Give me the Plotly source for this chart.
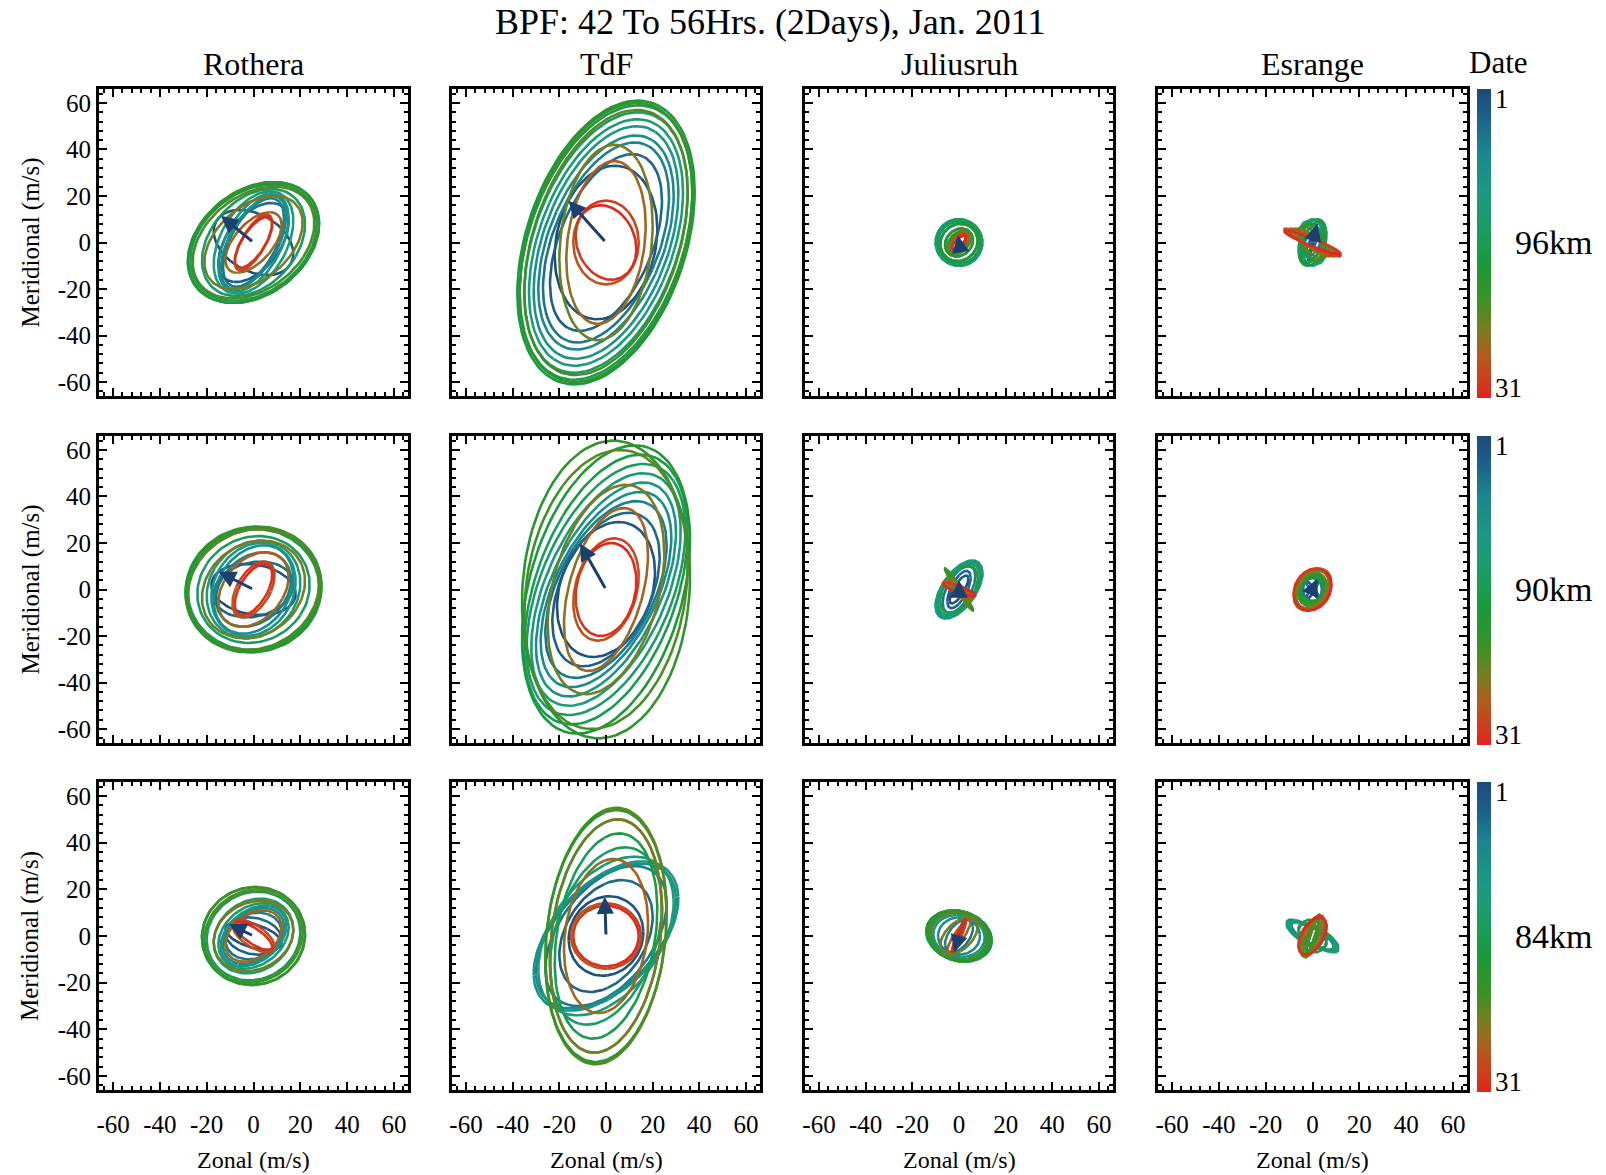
import numpy as np
import plotly.graph_objects as go

# ---------------------------------------------------------------------------
# Band-pass filtered (42-56 h) wind hodographs, January 2011.
# Each 2-day wave cycle is described by its zonal amplitude (m/s), its
# meridional amplitude (m/s) and the phase lag of the meridional component
# relative to the zonal one (degrees).  Cycles start on days 1, 3, ..., 29.
# ---------------------------------------------------------------------------
stations = ["Rothera", "TdF", "Juliusruh", "Esrange"]
heights = ["96km", "90km", "84km"]
cycle_start_days = [1, 3, 5, 7, 9, 11, 13, 15, 17, 19, 21, 23, 25, 27, 29]
axis_ticks = [-60, -40, -20, 0, 20, 40, 60]
first_day, last_day = 1, 31

# ---- 96 km ----
rothera_96_u = [17, 15, 13, 14, 15, 17, 22, 27, 28, 28, 26, 21, 12, 8, 8]
rothera_96_v = [14, 17, 19, 20, 21, 22, 23, 25, 26, 26, 24, 20, 13, 12, 11]
rothera_96_ph = [110, 60, 55, 55, 60, 65, 70, 72, 72, 72, 70, 65, 55, 45, 45]
rothera_96_start = 145

tdf_96_u = [22, 24, 27, 29, 31, 33, 35, 37, 38, 37, 35, 20, 17, 14, 13]
tdf_96_v = [33, 38, 43, 46, 50, 53, 56, 59, 61, 60, 57, 42, 35, 18, 16]
tdf_96_ph = [80, 62, 63, 64, 65, 66, 67, 68, 69, 69, 68, 80, 78, 90, 100]
tdf_96_start = 137

juliusruh_96_u = [3, 4, 6, 8, 9, 10, 10, 9, 8, 6, 5, 4, 4, 3, 3]
juliusruh_96_v = [4, 5, 6, 8, 9, 10, 10, 9, 8, 6, 5, 4, 4, 4, 3]
juliusruh_96_ph = [60, 70, 80, 85, 90, 90, 90, 90, 85, 80, 70, 60, 60, 50, 40]
juliusruh_96_start = 100

esrange_96_u = [2, 3, 4, 4, 5, 5, 5, 6, 5, 5, 6, 8, 10, 12, 12]
esrange_96_v = [8, 6, 6, 7, 8, 9, 10, 10, 9, 8, 7, 6, 6, 6, 5]
esrange_96_ph = [10, 30, 60, 80, 100, 120, 90, 70, 60, 110, 130, 150, 155, 160, 160]
esrange_96_start = 10

# ---- 90 km ----
rothera_90_u = [18, 17, 16, 17, 18, 20, 24, 28, 29, 29, 28, 22, 15, 9, 8]
rothera_90_v = [11, 12, 16, 19, 20, 21, 23, 26, 27, 27, 26, 21, 16, 12, 11]
rothera_90_ph = [100, 80, 75, 75, 80, 82, 85, 88, 88, 86, 84, 80, 70, 60, 55]
rothera_90_start = 146

tdf_90_u = [21, 23, 26, 28, 30, 32, 34, 35, 36, 36, 35, 25, 18, 14, 13]
tdf_90_v = [29, 33, 38, 42, 46, 50, 54, 58, 62, 64, 60, 45, 35, 22, 20]
tdf_90_ph = [75, 65, 60, 58, 58, 60, 62, 65, 70, 85, 80, 70, 65, 75, 80]
tdf_90_start = 122

juliusruh_90_u = [4, 5, 7, 9, 10, 10, 9, 8, 6, 6, 5, 5, 6, 7, 7]
juliusruh_90_v = [6, 8, 10, 12, 12.5, 12, 11, 10, 9, 9, 8, 5, 4, 3, 3]
juliusruh_90_ph = [40, 50, 55, 55, 55, 55, 60, 60, 170, 170, 165, 150, 150, 150, 150]
juliusruh_90_start = 90

esrange_90_u = [3, 3, 4, 5, 6, 6, 6, 6, 5, 6, 6, 7, 8, 8, 8]
esrange_90_v = [5, 4, 5, 6, 6, 6, 6, 6, 5, 6, 7, 8, 9, 9, 9]
esrange_90_ph = [20, 160, 90, 80, 70, 75, 80, 85, 90, 80, 75, 70, 70, 75, 80]
esrange_90_start = 45

# ---- 84 km ----
rothera_84_u = [12, 12, 12, 13, 14, 15, 17, 20, 22, 22, 21, 17, 12, 9, 8]
rothera_84_v = [6, 8, 10, 12, 13, 14, 16, 19, 21, 21, 20, 15, 11, 7, 6]
rothera_84_ph = [120, 100, 80, 70, 70, 75, 80, 85, 88, 88, 85, 80, 70, 130, 140]
rothera_84_start = 151

tdf_84_u = [16, 20, 26, 30, 31, 29, 24, 22, 24, 26, 26, 24, 18, 15, 14]
tdf_84_v = [17, 24, 30, 31, 32, 34, 38, 44, 50, 54, 55, 50, 33, 14, 13]
tdf_84_ph = [85, 70, 62, 60, 60, 65, 70, 75, 78, 80, 80, 78, 80, 90, 90]
tdf_84_start = 92

juliusruh_84_u = [2, 3, 6, 9, 11, 12, 13, 14, 14, 13, 12, 8, 5, 3, 3]
juliusruh_84_v = [7, 7, 7, 8, 9, 10, 10, 11, 11, 11, 10, 8, 7, 7, 7]
juliusruh_84_ph = [10, 20, 60, 90, 95, 100, 100, 100, 100, 100, 95, 60, 30, 20, 15]
juliusruh_84_start = 185

esrange_84_u = [3, 4, 6, 9, 11, 11, 10, 6, 4, 3, 3, 4, 5, 6, 6]
esrange_84_v = [4, 4, 5, 6, 7, 6, 6, 7, 8, 9, 9, 9, 9, 8, 8]
esrange_84_ph = [60, 100, 130, 140, 145, 140, 130, 100, 30, 20, 20, 40, 50, 60, 60]
esrange_84_start = 135

panel_rows = [
    [(rothera_96_u, rothera_96_v, rothera_96_ph, rothera_96_start),
     (tdf_96_u, tdf_96_v, tdf_96_ph, tdf_96_start),
     (juliusruh_96_u, juliusruh_96_v, juliusruh_96_ph, juliusruh_96_start),
     (esrange_96_u, esrange_96_v, esrange_96_ph, esrange_96_start)],
    [(rothera_90_u, rothera_90_v, rothera_90_ph, rothera_90_start),
     (tdf_90_u, tdf_90_v, tdf_90_ph, tdf_90_start),
     (juliusruh_90_u, juliusruh_90_v, juliusruh_90_ph, juliusruh_90_start),
     (esrange_90_u, esrange_90_v, esrange_90_ph, esrange_90_start)],
    [(rothera_84_u, rothera_84_v, rothera_84_ph, rothera_84_start),
     (tdf_84_u, tdf_84_v, tdf_84_ph, tdf_84_start),
     (juliusruh_84_u, juliusruh_84_v, juliusruh_84_ph, juliusruh_84_start),
     (esrange_84_u, esrange_84_v, esrange_84_ph, esrange_84_start)],
]

# ---------------------------------------------------------------------------
# Date colour ramp: day 1 dark blue -> teal -> green -> brown -> day 31 red
# ---------------------------------------------------------------------------
ramp_stops = [
    (0.00, "#1c4a7a"), (0.08, "#1d5d88"), (0.20, "#1b868e"),
    (0.34, "#1b9a82"), (0.47, "#1a9c5a"), (0.57, "#1c9836"),
    (0.68, "#3a9227"), (0.77, "#767e22"), (0.87, "#b5591f"),
    (1.00, "#e3231c"),
]


def hex_rgb(h):
    h = h.lstrip("#")
    return [int(h[i:i + 2], 16) for i in (0, 2, 4)]


def ramp_color(f):
    f = min(max(f, 0.0), 1.0)
    for (f0, c0), (f1, c1) in zip(ramp_stops[:-1], ramp_stops[1:]):
        if f <= f1:
            w = (f - f0) / (f1 - f0) if f1 > f0 else 0.0
            a, b = hex_rgb(c0), hex_rgb(c1)
            r = [round(a[i] + (b[i] - a[i]) * w) for i in range(3)]
            return "rgb(%d,%d,%d)" % tuple(r)
    return ramp_stops[-1][1]


# colour bar runs red (bottom, day 31) to blue (top, day 1)
bar_scale = [[1 - f, c] for f, c in reversed(ramp_stops)]

# ---------------------------------------------------------------------------
# Page geometry (pixels of the 1606 x 1175 page)
# ---------------------------------------------------------------------------
W, H = 1606, 1175
col_px = [(99, 408), (452, 760), (805, 1113), (1158, 1467)]
row_px = [(89, 396), (436, 743), (782, 1090)]
ax_range = [-66, 66]
serif = "Liberation Serif"
arrow_color = "#1b3f6e"

fig = go.Figure()
annotations = []

seg_len = 0.5  # days per coloured line segment
n_seg = int(round((last_day - first_day) / seg_len))

for r, row in enumerate(panel_rows):
    for c, (u_amp, v_amp, phase, start) in enumerate(row):
        n = r * 4 + c + 1
        xa = "x" if n == 1 else "x%d" % n
        ya = "y" if n == 1 else "y%d" % n
        th0 = np.radians(start)
        for s in range(n_seg):
            t_a = first_day + s * seg_len
            t_b = t_a + seg_len
            t_mid = 0.5 * (t_a + t_b)
            k = int((t_mid - first_day) // 2)
            t = np.linspace(t_a, t_b, 26)
            theta = th0 + np.pi * (t - first_day)
            u = u_amp[k] * np.cos(theta)
            v = v_amp[k] * np.cos(theta - np.radians(phase[k]))
            col = ramp_color((t_mid - first_day) / (last_day - first_day))
            fig.add_trace(go.Scatter(
                x=u, y=v, mode="lines", xaxis=xa, yaxis=ya,
                line=dict(color=col, width=2.6), hoverinfo="skip",
                showlegend=False))
        # wind vector at the first time step
        tip_u = u_amp[0] * np.cos(th0)
        tip_v = v_amp[0] * np.cos(th0 - np.radians(phase[0]))
        annotations.append(dict(
            x=tip_u, y=tip_v, ax=0, ay=0, xref=xa, yref=ya, axref=xa, ayref=ya,
            text="", showarrow=True, arrowhead=2, arrowsize=1.15,
            arrowwidth=3, arrowcolor=arrow_color))

# ---------------------------------------------------------------------------
# Axes
# ---------------------------------------------------------------------------
layout_axes = {}
for r in range(3):
    for c in range(4):
        n = r * 4 + c + 1
        x0, x1 = col_px[c]
        y0, y1 = row_px[r]
        common = dict(
            range=ax_range, autorange=False, fixedrange=True,
            showgrid=False, zeroline=False,
            showline=True, linecolor="black", linewidth=3, mirror="allticks",
            ticks="inside", ticklen=8, tickwidth=2, tickcolor="black",
            tickvals=axis_ticks, ticktext=[str(v) for v in axis_ticks],
            minor=dict(ticks="inside", dtick=4, tick0=0, ticklen=4,
                       tickwidth=1.5, tickcolor="black"),
            tickfont=dict(family=serif, size=25, color="black"),
        )
        xkey = "xaxis" if n == 1 else "xaxis%d" % n
        ykey = "yaxis" if n == 1 else "yaxis%d" % n
        layout_axes[xkey] = dict(
            common, domain=[x0 / W, x1 / W],
            anchor="y" if n == 1 else "y%d" % n,
            showticklabels=(r == 2), ticklabelstandoff=10)
        layout_axes[ykey] = dict(
            common, domain=[1 - y1 / H, 1 - y0 / H],
            anchor="x" if n == 1 else "x%d" % n,
            showticklabels=(c == 0), ticklabelstandoff=0)

# ---------------------------------------------------------------------------
# Date colour bars (one per height row)
# ---------------------------------------------------------------------------
bar_x0 = 1477
bar_w = 14
for r in range(3):
    y0, y1 = row_px[r]
    n = r * 4 + 4
    fig.add_trace(go.Scatter(
        x=[1000], y=[1000], mode="markers", xaxis="x%d" % n, yaxis="y%d" % n,
        hoverinfo="skip", showlegend=False,
        marker=dict(size=1, color=[first_day], colorscale=bar_scale,
                    cmin=first_day, cmax=last_day, showscale=True,
                    colorbar=dict(
                        x=bar_x0 / W, xanchor="left", xref="paper",
                        y=1 - y0 / H, yanchor="top", yref="paper",
                        len=y1 - y0 + 2, lenmode="pixels",
                        thickness=bar_w, thicknessmode="pixels",
                        outlinewidth=0, xpad=0, ypad=0,
                        showticklabels=False, ticks=""))))
    annotations.append(dict(
        x=(bar_x0 + bar_w + 2) / W, y=1 - (y0 + 10) / H, xref="paper",
        yref="paper", text=str(first_day), showarrow=False, xanchor="left",
        yanchor="middle", font=dict(family=serif, size=27, color="black")))
    annotations.append(dict(
        x=(bar_x0 + bar_w + 2) / W, y=1 - (y1 - 8) / H, xref="paper",
        yref="paper", text=str(last_day), showarrow=False, xanchor="left",
        yanchor="middle", font=dict(family=serif, size=27, color="black")))
    annotations.append(dict(
        x=1553 / W, y=1 - 0.5 * (y0 + y1) / H, xref="paper", yref="paper",
        text=heights[r], showarrow=False, xanchor="center", yanchor="middle",
        font=dict(family=serif, size=34, color="black")))
    annotations.append(dict(
        x=30 / W, y=1 - 0.5 * (y0 + y1) / H, xref="paper", yref="paper",
        text="Meridional (m/s)", showarrow=False, textangle=-90,
        xanchor="center", yanchor="middle",
        font=dict(family=serif, size=25, color="black")))

annotations.append(dict(
    x=1498 / W, y=1 - 63 / H, xref="paper", yref="paper", text="Date",
    showarrow=False, xanchor="center", yanchor="middle",
    font=dict(family=serif, size=31, color="black")))

for c, name in enumerate(stations):
    x0, x1 = col_px[c]
    annotations.append(dict(
        x=0.5 * (x0 + x1) / W, y=1 - 64 / H, xref="paper", yref="paper",
        text=name, showarrow=False, xanchor="center", yanchor="middle",
        font=dict(family=serif, size=32, color="black")))
    annotations.append(dict(
        x=0.5 * (x0 + x1) / W, y=1 - 1160 / H, xref="paper", yref="paper",
        text="Zonal (m/s)", showarrow=False, xanchor="center",
        yanchor="middle", font=dict(family=serif, size=24, color="black")))

annotations.append(dict(
    x=770 / W, y=1 - 22 / H, xref="paper", yref="paper",
    text="BPF: 42 To 56Hrs. (2Days), Jan. 2011", showarrow=False,
    xanchor="center", yanchor="middle",
    font=dict(family=serif, size=36, color="black")))

fig.update_layout(
    width=W, height=H,
    margin=dict(l=0, r=0, t=0, b=0, autoexpand=False),
    paper_bgcolor="white", plot_bgcolor="white",
    font=dict(family=serif, color="black"),
    showlegend=False,
    annotations=annotations,
    **layout_axes,
)

fig.write_html("out.html")
